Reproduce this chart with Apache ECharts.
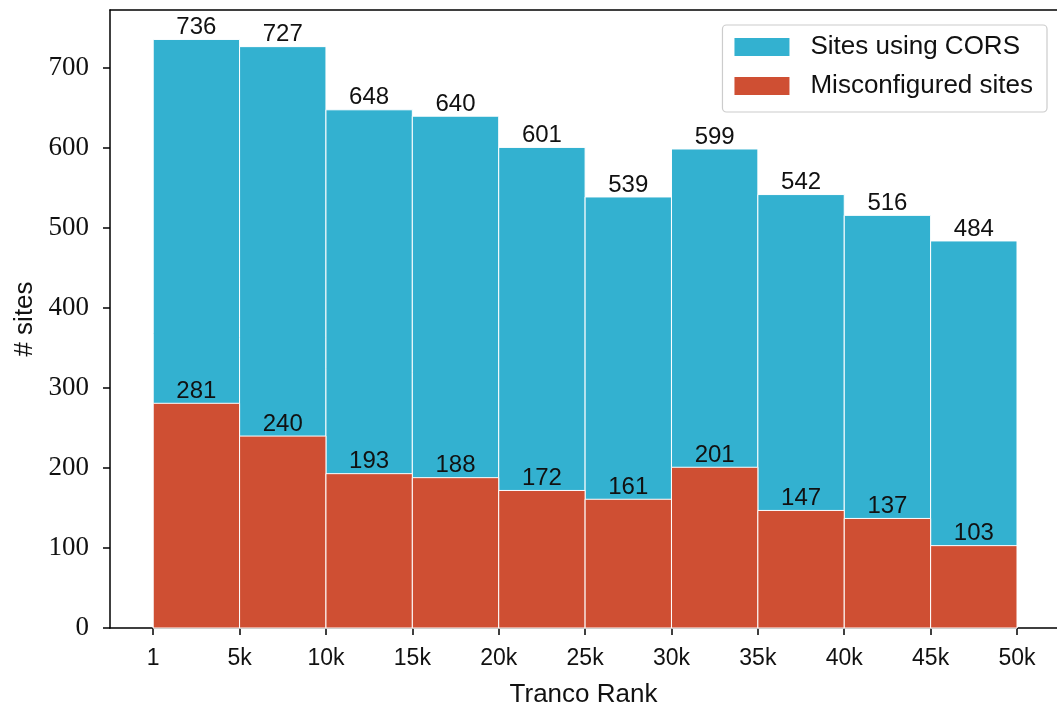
<!DOCTYPE html>
<html>
<head>
<meta charset="utf-8">
<script src="https://cdn.jsdelivr.net/npm/echarts@6/dist/echarts.min.js"></script>
<style>
  html, body { margin: 0; padding: 0; background: #fff; }
  #chart { width: 1057px; height: 708px; }
</style>
</head>
<body>
<div id="chart"></div>
<script>
// Tranco rank bins (edges) and counts per bin
const binEdges = [1, 5000, 10000, 15000, 20000, 25000, 30000, 35000, 40000, 45000, 50000];
const tickLabels = ['1', '5k', '10k', '15k', '20k', '25k', '30k', '35k', '40k', '45k', '50k'];
const corsSites = [736, 727, 648, 640, 601, 539, 599, 542, 516, 484];
const misconfiguredSites = [281, 240, 193, 188, 172, 161, 201, 147, 137, 103];

const BLUE = '#33b1d0';
const RED = '#cf4f33';
const SANS = '"Liberation Sans", Arial, sans-serif';
const SERIF = '"Liberation Serif", "DejaVu Serif", serif';

const X_MIN = -2500, X_MAX = 52315;

function binData(values) {
  return values.map((v, i) => [binEdges[i], binEdges[i + 1], v]);
}

function histRenderer(color) {
  return function (params, api) {
    const x0 = api.value(0), x1 = api.value(1), v = api.value(2);
    const topLeft = api.coord([x0, v]);
    const bottomRight = api.coord([x1, 0]);
    const mid = api.coord([(x0 + x1) / 2, v]);
    return {
      type: 'group',
      children: [
        {
          type: 'rect',
          shape: {
            x: topLeft[0], y: topLeft[1],
            width: bottomRight[0] - topLeft[0],
            height: bottomRight[1] - topLeft[1]
          },
          style: { fill: color, stroke: '#ffffff', lineWidth: 1 }
        },
        {
          type: 'text',
          z2: 10,
          style: {
            x: mid[0], y: mid[1],
            text: String(v),
            fill: '#111',
            font: '24px ' + SANS,
            align: 'center',
            verticalAlign: 'bottom'
          }
        }
      ]
    };
  };
}

const chart = echarts.init(document.getElementById('chart'), null, { renderer: 'canvas' });

const spine = { show: true, onZero: false, lineStyle: { color: '#000', width: 1.5 } };

chart.setOption({
  animation: false,
  backgroundColor: '#fff',
  grid: {
    left: 110, right: 0, top: 10, bottom: 80,
    show: false,
    containLabel: false,
    outerBoundsMode: 'none'
  },
  legend: {
    right: 10, top: 25,
    orient: 'vertical',
    itemWidth: 55, itemHeight: 18, itemGap: 13,
    padding: [9, 14, 13, 12],
    borderColor: '#cccccc', borderWidth: 1.2, borderRadius: 4,
    backgroundColor: 'rgba(255,255,255,0.85)',
    icon: 'rect',
    textStyle: { fontFamily: SANS, fontSize: 26, color: '#111', padding: [0, 0, 0, 16] },
    data: [
      { name: 'Sites using CORS', itemStyle: { color: BLUE } },
      { name: 'Misconfigured sites', itemStyle: { color: RED } }
    ]
  },
  xAxis: [
    {
      type: 'value',
      min: X_MIN, max: X_MAX,
      name: 'Tranco Rank',
      nameLocation: 'middle',
      nameGap: 54,
      nameTextStyle: { fontFamily: SANS, fontSize: 26, color: '#111' },
      splitLine: { show: false },
      axisLine: spine,
      axisTick: {
        show: true, length: 7, lineStyle: { color: '#000', width: 1.5 },
        customValues: binEdges
      },
      axisLabel: {
        customValues: binEdges,
        formatter: (v) => tickLabels[binEdges.indexOf(v)] ?? '',
        margin: 19,
        fontFamily: SANS, fontSize: 23, color: '#111'
      }
    },
    {
      // top frame line
      type: 'value',
      position: 'top',
      min: X_MIN, max: X_MAX,
      axisLine: spine,
      axisTick: { show: false },
      axisLabel: { show: false },
      splitLine: { show: false }
    }
  ],
  yAxis: {
    type: 'value',
    min: 0, max: 772.8, interval: 100,
    name: '# sites',
    nameLocation: 'middle',
    nameGap: 70,
    nameRotate: 90,
    nameTextStyle: { fontFamily: SANS, fontSize: 26, color: '#111' },
    splitLine: { show: false },
    axisLine: spine,
    axisTick: { show: true, length: 7, lineStyle: { color: '#000', width: 1.5 } },
    axisLabel: {
      showMaxLabel: false,
      formatter: (v) => (v % 100 === 0 ? String(v) : ''),
      margin: 21,
      fontFamily: SERIF, fontSize: 27, color: '#111'
    }
  },
  series: [
    {
      name: 'Sites using CORS',
      type: 'custom',
      itemStyle: { color: BLUE },
      renderItem: histRenderer(BLUE),
      encode: { x: [0, 1], y: 2 },
      data: binData(corsSites),
      z: 2
    },
    {
      name: 'Misconfigured sites',
      type: 'custom',
      itemStyle: { color: RED },
      renderItem: histRenderer(RED),
      encode: { x: [0, 1], y: 2 },
      data: binData(misconfiguredSites),
      z: 3
    }
  ]
});
</script>
</body>
</html>
